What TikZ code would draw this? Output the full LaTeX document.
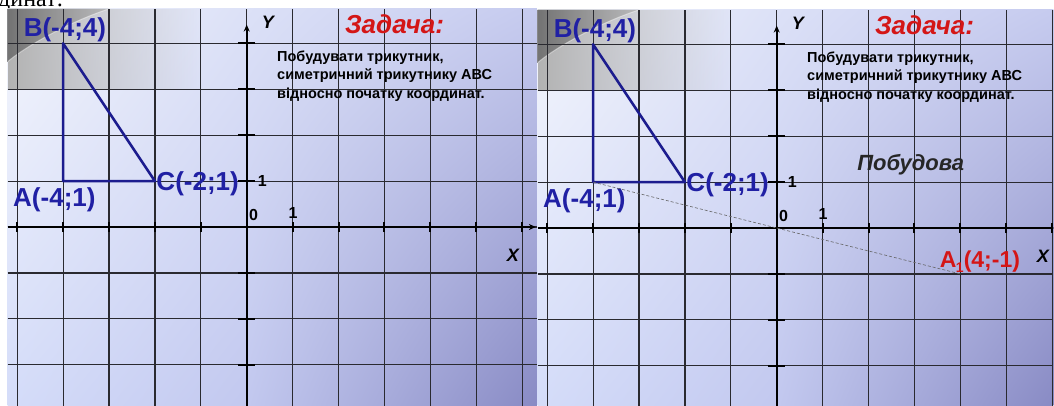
\documentclass[tikz,border=0pt]{standalone}
\usepackage{fontspec}
\setmainfont{Liberation Sans}
\newfontfamily\docfont{Liberation Serif}
\usepackage{xcolor}
\usetikzlibrary{arrows.meta,fadings,shadings}

\definecolor{triblue}{HTML}{1C1C8E}
\definecolor{ptblue}{HTML}{2020A4}
\definecolor{taskred}{HTML}{D41616}
\definecolor{gridgray}{HTML}{2A2A30}
\definecolor{bgA}{HTML}{F4F6FC}
\definecolor{bgB}{HTML}{DCE1F7}
\definecolor{bgC}{HTML}{D4DCF9}
\definecolor{bgD}{HTML}{C2C8EF}
\definecolor{bgE}{HTML}{C6CBEF}
\definecolor{bgF}{HTML}{888AC4}

\tikzset{
  gridline/.style={gridgray, line width=1.2pt},
  axisline/.style={black, line width=2.4pt, -{Stealth[length=7pt,width=6pt]}},
  tickmark/.style={black, line width=2pt},
  tri/.style={triblue, line width=2.6pt, line join=round},
  ptlabel/.style={text=ptblue, font=\fontsize{26}{28}\selectfont\bfseries, inner sep=0pt},
  numlabel/.style={font=\fontsize{16}{18}\selectfont\bfseries, inner sep=0pt},
  axlabel/.style={font=\fontsize{18}{20}\selectfont\bfseries\itshape, inner sep=0pt},
  tasktitle/.style={text=taskred, font=\fontsize{26}{28}\selectfont\bfseries\itshape, inner sep=0pt, anchor=base},
  tasktext/.style={font=\fontsize{14.5}{16}\selectfont\bfseries, anchor=base west, inner sep=0pt},
  reflect/.style={black!60, line width=0.6pt, densely dashed}
}

\begin{document}
\begin{tikzpicture}[x=1pt,y=-1pt]
        \useasboundingbox (0,0) rectangle (1054,405);
        \fill[white] (0,0) rectangle (1054,405);
        \node[font=\docfont\fontsize{24}{26}\selectfont, anchor=base west, inner sep=0pt] (frag) at (-2,6.5) {динат:};
        \foreach \ox/\oy/\xr in {246.7/227/6.32, 776.7/228/6.03}{
        \begin{scope}[shift={(\ox,\oy)}, x=45.9pt, y=45.9pt]
            \clip (-5.21,-3.92) rectangle (\xr,4.76);
            \shade[upper left=bgA, upper right=bgB, lower left=bgC, lower right=bgD] (-5.21,-3.92) rectangle (0,4.76);
            \shade[upper left=bgB, upper right=bgE, lower left=bgD, lower right=bgF] (0,-3.92) rectangle (\xr,4.76);
            \fill[gray!60, path fading=east] (-5.21,2.98) rectangle (-1.0,4.76);
            \shade[left color=black!65, right color=gray!60, opacity=0.7] (-5.21,4.76) -- (-5.21,3.6) .. controls (-4.8,3.95) and (-3.8,4.5) .. (-2.97,4.76) -- cycle;
            \draw[white, opacity=0.45, line width=1pt] (-5.21,3.6) .. controls (-4.8,3.95) and (-3.8,4.5) .. (-2.97,4.76);
            \foreach \i in {-5,...,6} \draw[gridline] (\i,-3.92) -- (\i,4.76);
            \foreach \j in {-3,...,4} \draw[gridline] (-5.21,\j) -- (\xr,\j);
            \draw[axisline] (-5.21,0) -- (6.3,0);
            \draw[axisline] (0,-3.92) -- (0,4.41);
            \foreach \j in {-3,-2,-1,1,2,3,4} \draw[tickmark] (-0.19,\j) -- (0.19,\j);
            \foreach \i in {-5,...,-1,1,2,...,6} \draw[tickmark] (\i,-0.11) -- (\i,0.11);
            \coordinate (O) at (0,0);
            \coordinate (A) at (-4,1);
            \coordinate (B) at (-4,4);
            \coordinate (C) at (-2,1);
            \draw[tri] (A) -- (B) -- (C) -- cycle;
            \node[ptlabel, anchor=base] (labB) at (-3.96,4.16) {B(-4;4)};
            \node[ptlabel, anchor=base] (labA) at (-4.19,0.45) {A(-4;1)};
            \node[ptlabel, anchor=base west] (labC) at (-1.97,0.79) {C(-2;1)};
            \node[numlabel] (oneY) at (0.34,1.0) {1};
            \node[numlabel] (zero) at (0.15,0.26) {0};
            \node[numlabel] (oneX) at (1.01,0.3) {1};
            \node[axlabel] (labY) at (0.46,4.45) {Y};
            \node[axlabel] (labX) at (5.8,-0.62) {X};
            \node[tasktitle] (task) at (3.22,4.21) {Задача:};
            \node[tasktext] (line1) at (0.66,3.6) {Побудувати трикутник,};
            \node[tasktext] (line2) at (0.66,3.22) {симетричний трикутнику АВС};
            \node[tasktext] (line3) at (0.66,2.79) {відносно початку координат.};
        \end{scope}
        }
        \begin{scope}[shift={(776.7,228)}, x=45.9pt, y=45.9pt]
            \coordinate (A) at (-4,1);
            \coordinate (A1) at (4,-1);
            \draw[reflect] (A) -- (A1);
            \node[font=\fontsize{22}{24}\selectfont\bfseries\itshape, text=black!85, anchor=base, inner sep=0pt] (build) at (2.92,1.26) {Побудова};
            \node[ptlabel, text=taskred, font=\fontsize{23}{25}\selectfont\bfseries, anchor=base west] (labA1) at (3.55,-0.87) {A\kern-0.5pt\raisebox{-0.4ex}{\fontsize{14}{14}\selectfont 1}(4;-1)};
        \end{scope}
    \end{tikzpicture}
\end{document}
